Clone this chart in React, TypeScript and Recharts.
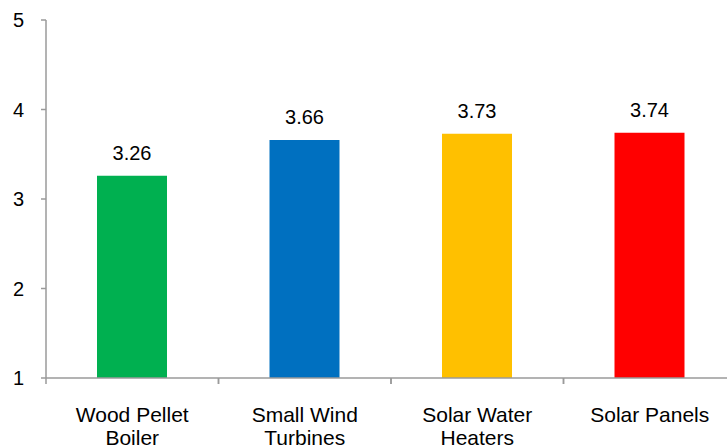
import React from "react";
import { BarChart, Bar, XAxis, YAxis, Cell, LabelList } from "recharts";

// categories, values and bar colours
const categories = ["Wood Pellet\nBoiler", "Small Wind\nTurbines", "Solar Water\nHeaters", "Solar Panels"];
const scores = [3.26, 3.66, 3.73, 3.74];
const barColors = ["#00B050", "#0070C0", "#FFC000", "#FF0000"];
const yTicks = [1, 2, 3, 4, 5];

const data = categories.map((name, i) => ({ name, score: scores[i] }));

const CHART_W = 740;
const PLOT_LEFT = 46;
const PLOT_RIGHT_MARGIN = 4;
const halfBand = (CHART_W - PLOT_LEFT - PLOT_RIGHT_MARGIN) / categories.length / 2;
const axisColor = "#9a9a9a";
const font = "'Liberation Sans', Arial, sans-serif";

function CategoryTick(props: any) {
  const { x, y, payload } = props;
  // recharts hands us y already pushed down by tickSize + tickMargin (6 + 2)
  const axisY = y - 8;
  const lines = String(payload.value).split("\n");
  return (
    <g>
      {/* tick marks sit between categories, like excel */}
      <line x1={x - halfBand} x2={x - halfBand} y1={axisY} y2={axisY + 6} stroke={axisColor} strokeWidth={1.5} />
      <line x1={x + halfBand} x2={x + halfBand} y1={axisY} y2={axisY + 6} stroke={axisColor} strokeWidth={1.5} />
      <text x={x} y={axisY + 44} textAnchor="middle" fill="#000" fontSize={21} fontFamily={font}>
        {lines.map((l, i) => (
          <tspan key={i} x={x} dy={i === 0 ? 0 : 23}>
            {l}
          </tspan>
        ))}
      </text>
    </g>
  );
}

export default function App() {
  return (
    <div style={{ position: "absolute", left: 0, top: 0, width: 727, height: 448, overflow: "hidden", background: "#fff" }}>
      <BarChart
        width={CHART_W}
        height={448}
        data={data}
        margin={{ top: 20, right: PLOT_RIGHT_MARGIN, bottom: 0, left: 0 }}
      >
        <XAxis
          dataKey="name"
          height={70}
          interval={0}
          tickLine={false}
          axisLine={{ stroke: axisColor, strokeWidth: 1.5 }}
          tick={<CategoryTick />}
        />
        <YAxis
          width={PLOT_LEFT}
          domain={[1, 5]}
          ticks={yTicks}
          allowDataOverflow
          axisLine={{ stroke: axisColor, strokeWidth: 1.5 }}
          tickLine={{ stroke: axisColor, strokeWidth: 1.5 }}
          tickSize={5}
          tickMargin={17}
          tick={{ fill: "#000", fontSize: 20, fontFamily: font }}
        />
        <Bar dataKey="score" barSize={70} isAnimationActive={false}>
          {data.map((_, i) => (
            <Cell key={`cell-${i}`} fill={barColors[i]} />
          ))}
          <LabelList
            dataKey="score"
            position="top"
            offset={16}
            fill="#000"
            fontSize={20}
            fontFamily={font}
            formatter={(v: any) => Number(v).toFixed(2)}
          />
        </Bar>
      </BarChart>
    </div>
  );
}
